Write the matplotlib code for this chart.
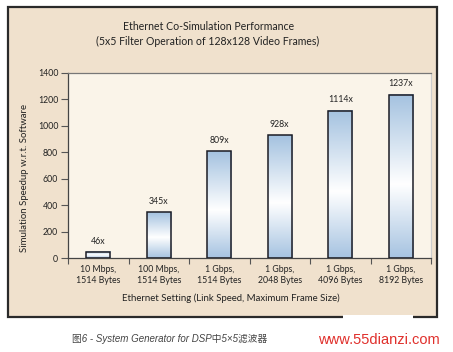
import numpy as np
import matplotlib.pyplot as plt
from matplotlib.patches import Rectangle
from matplotlib.colors import LinearSegmentedColormap

categories = ['10 Mbps,\n1514 Bytes', '100 Mbps,\n1514 Bytes', '1 Gbps,\n1514 Bytes',
              '1 Gbps,\n2048 Bytes', '1 Gbps,\n4096 Bytes', '1 Gbps,\n8192 Bytes']
speedup = [46, 345, 809, 928, 1114, 1237]
value_labels = ['46x', '345x', '809x', '928x', '1114x', '1237x']
yticks = [0, 200, 400, 600, 800, 1000, 1200, 1400]

W, H = 453, 352
fig = plt.figure(figsize=(W / 100, H / 100), dpi=100, facecolor='white')

# beige framed panel
fig.patches.append(Rectangle((8 / W, 1 - 317 / H), 429 / W, 310 / H, transform=fig.transFigure,
                             facecolor='#f0e1cd', edgecolor='#2a2a2a', linewidth=1.6, zorder=-2))
# white patch over the frame (watermark area)
fig.patches.append(Rectangle((343 / W, 1 - 332 / H), 70 / W, 17 / H, transform=fig.transFigure,
                             facecolor='white', edgecolor='none', zorder=-1))

ax = fig.add_axes([68 / W, 1 - 258 / H, 363 / W, 185 / H])
ax.set_zorder(2)
ax.set_facecolor('#faf4e9')

cmap = LinearSegmentedColormap.from_list('bar', [(0, '#a6c3e1'), (0.45, '#ffffff'), (1, '#a4c2e0')])
grad = np.linspace(0, 1, 256).reshape(-1, 1)
bw = 0.4
for i, v in enumerate(speedup):
    ax.imshow(grad, cmap=cmap, origin='lower', aspect='auto', extent=[i - bw / 2, i + bw / 2, 0, v], zorder=2)
    ax.add_patch(Rectangle((i - bw / 2, 0), bw, v, facecolor='none', edgecolor='#1c1c24', linewidth=1.1, zorder=3))
    ax.text(i, v + 48, value_labels[i], ha='center', va='bottom', fontsize=6.3, family='Lato', color='#222222')

ax.set_xlim(-0.5, len(speedup) - 0.5)
ax.set_ylim(0, 1400)
ax.set_yticks(yticks)
ax.set_yticklabels([str(t) for t in yticks], fontsize=6.3, family='Lato', color='#222222')
ax.set_xticks(np.arange(-0.5, len(speedup) + 0.5, 1))
ax.set_xticklabels([])
ax.set_xticks(np.arange(len(speedup)), minor=True)
ax.set_xticklabels(categories, minor=True, fontsize=6.3, family='Lato', color='#222222', linespacing=1.3)
ax.tick_params(axis='x', which='minor', length=0, pad=5)
ax.tick_params(axis='x', which='major', length=4, color='#555555', width=0.8)
ax.tick_params(axis='y', length=5, color='#555555', width=0.8, pad=2)

ax.spines['left'].set_color('#444444')
ax.spines['bottom'].set_color('#444444')
ax.spines['top'].set_color('#777777')
ax.spines['right'].set_color('#cccccc')
for s in ax.spines.values():
    s.set_linewidth(0.9)

fig.text(209 / W, 1 - 27 / H, 'Ethernet Co-Simulation Performance', ha='center', va='center',
         fontsize=7.6, family='Lato', color='#222222')
fig.text(208 / W, 1 - 41 / H, '(5x5 Filter Operation of 128x128 Video Frames)', ha='center', va='center',
         fontsize=7.6, family='Lato', color='#222222')
fig.text(25 / W, 1 - 178 / H, 'Simulation Speedup w.r.t. Software', rotation=90, ha='center', va='center',
         fontsize=6.9, family='Lato', color='#222222')
fig.text(231 / W, 1 - 298 / H, 'Ethernet Setting (Link Speed, Maximum Frame Size)', ha='center', va='center',
         fontsize=6.9, family='Lato', color='#222222')

fig.text(72 / W, 1 - 339 / H, '图6 - System Generator for DSP中5×5滤波器', ha='left', va='center',
         fontsize=7, style='italic', family=['Liberation Sans', 'Noto Sans CJK SC'], color='#444444')
fig.text(318 / W, 1 - 340 / H, 'www.55dianzi.com', ha='left', va='center',
         fontsize=10.5, family='Liberation Sans', color='#e0302c')

fig.savefig('out.png', dpi=100, facecolor='white')
